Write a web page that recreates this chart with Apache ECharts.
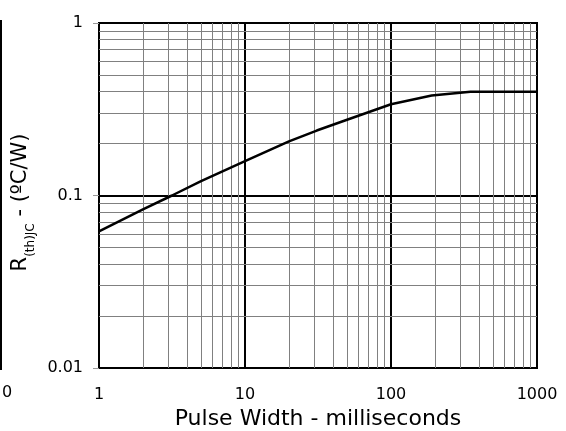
<!DOCTYPE html>
<html>
<head>
<meta charset="utf-8">
<script src="https://cdn.jsdelivr.net/npm/echarts@6/dist/echarts.min.js"></script>
<style>
html,body{margin:0;padding:0;background:#fff;}
#chart{width:566px;height:431px;}
</style>
</head>
<body>
<div id="chart"></div>
<script>
// Transient thermal impedance curve
const pulseWidthMs = [1, 2, 3.16, 5, 10, 20, 31, 50, 100, 190, 350, 1000];
const thermalResistance = [0.062, 0.083, 0.1, 0.121, 0.158, 0.206, 0.238, 0.275, 0.338, 0.38, 0.4, 0.4];

// Axis ticks
const xTickValues = [1, 10, 100, 1000];
const yTickValues = [0.01, 0.1, 1];
const xMinorGrid = [2, 3, 4, 5, 6, 7, 8, 9, 20, 30, 40, 50, 60, 70, 80, 90, 200, 300, 400, 500, 600, 700, 800, 900];
const yMinorGrid = [0.02, 0.03, 0.04, 0.05, 0.06, 0.07, 0.08, 0.09, 0.2, 0.3, 0.4, 0.5, 0.6, 0.7, 0.8, 0.9];

const xTitle = 'Pulse Width - milliseconds';
const yTitleMain = 'R';
const yTitleSub = '(th)JC';
const yTitleRest = ' - (ºC/W)';

const FONT = 'DejaVu Sans';

const chart = echarts.init(document.getElementById('chart'), null, {renderer: 'canvas'});

const curve = pulseWidthMs.map((x, i) => [x, thermalResistance[i]]);
const minorLines = xMinorGrid.map(v => ({xAxis: v})).concat(yMinorGrid.map(v => ({yAxis: v})));

chart.setOption({
  animation: false,
  backgroundColor: '#fff',
  grid: {
    left: 99, right: 29, top: 23, bottom: 63,
    outerBoundsMode: 'none',
    containLabel: false,
    show: true, borderColor: '#000', borderWidth: 2, backgroundColor: 'transparent'
  },
  xAxis: {
    type: 'log', logBase: 10,
    min: xTickValues[0], max: xTickValues[xTickValues.length - 1],
    axisLine: {show: true, lineStyle: {color: '#000', width: 2}},
    axisTick: {show: false},
    splitLine: {show: true, lineStyle: {color: '#000', width: 2}},
    axisLabel: {
      color: '#000', fontFamily: FONT, fontSize: 16, margin: 19,
      formatter: v => String(v)
    },
    name: xTitle,
    nameLocation: 'middle',
    nameGap: 36,
    nameTextStyle: {color: '#000', fontFamily: FONT, fontSize: 22}
  },
  yAxis: {
    type: 'log', logBase: 10,
    min: yTickValues[0], max: yTickValues[yTickValues.length - 1],
    axisLine: {show: true, lineStyle: {color: '#000', width: 2}},
    axisTick: {show: true, length: 6, lineStyle: {color: '#999', width: 1}},
    splitLine: {show: true, lineStyle: {color: '#000', width: 2}},
    axisLabel: {
      color: '#000', fontFamily: FONT, fontSize: 16, margin: 16,
      formatter: v => String(v)
    },
    name: '{r|' + yTitleMain + '}{s|' + yTitleSub + '}{n|' + yTitleRest + '}',
    nameLocation: 'middle',
    nameRotate: 90,
    nameGap: 58,
    nameTextStyle: {
      color: '#000', fontFamily: FONT,
      padding: [0, 14, 0, 0],
      rich: {
        r: {fontFamily: FONT, fontSize: 21, color: '#000', verticalAlign: 'bottom', padding: [0, 0, 5, 0]},
        s: {fontFamily: FONT, fontSize: 12, color: '#000', verticalAlign: 'bottom'},
        n: {fontFamily: FONT, fontSize: 21, color: '#000', verticalAlign: 'bottom', padding: [0, 0, 5, 0]}
      }
    }
  },
  graphic: [
    {type: 'line', shape: {x1: 1, y1: 20, x2: 1, y2: 370}, style: {stroke: '#000', lineWidth: 2}, silent: true},
    {type: 'text', x: 7, y: 393, style: {text: '0', fill: '#000', font: '16px ' + FONT, align: 'center', verticalAlign: 'middle'}, silent: true}
  ],
  series: [
    {
      type: 'line',
      data: [],
      silent: true,
      z: 1,
      markLine: {
        silent: true,
        symbol: ['none', 'none'],
        label: {show: false},
        lineStyle: {type: 'solid', color: '#808080', width: 1},
        emphasis: {disabled: true},
        data: minorLines
      }
    },
    {
      type: 'line',
      data: curve,
      showSymbol: false,
      smooth: false,
      z: 5,
      lineStyle: {color: '#000', width: 2.5},
      silent: true
    }
  ]
});
</script>
</body>
</html>
